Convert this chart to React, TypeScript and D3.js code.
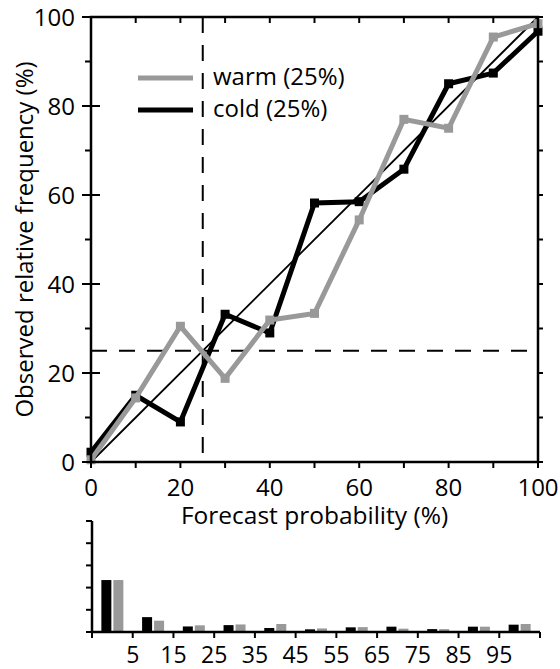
import React from 'react';
import * as d3 from 'd3';

// ---------- data ----------
const forecastBins = [0, 10, 20, 30, 40, 50, 60, 70, 80, 90, 100];
const coldObserved = [2.2, 15, 9, 33.2, 29, 58.2, 58.5, 65.8, 85, 87.4, 96.8];
const warmObserved = [0.5, 14.4, 30.5, 18.8, 31.9, 33.4, 54.4, 77, 75, 95.5, 98.5];
const coldCounts = [23.4, 6.7, 2.5, 3.1, 1.8, 1.2, 2.1, 2.4, 1.3, 2.4, 3.3];
const warmCounts = [23.4, 5.1, 3.0, 3.4, 3.6, 1.6, 2.2, 1.5, 1.3, 2.4, 3.6];
const mainTickLabels = [0, 20, 40, 60, 80, 100];
const minorTicks = [10, 30, 50, 70, 90];
const histTickValues = [-5, 5, 15, 25, 35, 45, 55, 65, 75, 85, 95, 105];
const histTickLabels = [5, 15, 25, 35, 45, 55, 65, 75, 85, 95];
const histYTicks = [0, 10, 20, 30, 40, 50];
const climatology = 25;
const legendItems = [
  { label: 'warm (25%)', color: '#999999' },
  { label: 'cold (25%)', color: '#000000' },
];

const FONT = '"Open Sans", sans-serif';
const GRAY = '#999999';

export default function App() {
  const left = 91, right = 538, top = 17, bottom = 462;
  const x = d3.scaleLinear().domain([0, 100]).range([left, right]);
  const y = d3.scaleLinear().domain([0, 100]).range([bottom, top]);

  const hx = d3.scaleLinear().domain([-5, 105]).range([92, 540]);
  const hy = d3.scaleLinear().domain([0, 50]).range([632, 521]);

  const line = d3
    .line<[number, number]>()
    .x((d) => x(d[0]))
    .y((d) => y(d[1]));

  const coldPts: [number, number][] = forecastBins.map((b, i) => [b, coldObserved[i]]);
  const warmPts: [number, number][] = forecastBins.map((b, i) => [b, warmObserved[i]]);
  const allTicks = d3.range(0, 101, 10);
  const ms = 9;

  return (
    <svg
      width={560}
      height={669}
      style={{ position: 'absolute', left: 0, top: 0, background: '#fff' }}
      fontFamily={FONT}
    >
      {/* reference lines */}
      <line x1={x(climatology)} x2={x(climatology)} y1={y(100)} y2={y(0)} stroke="#000" strokeWidth={2} strokeDasharray="16,12" />
      <line x1={x(0)} x2={x(100)} y1={y(climatology)} y2={y(climatology)} stroke="#000" strokeWidth={2} strokeDasharray="16,12" />
      <path d={line([[0, 0], [100, 100]]) || ''} stroke="#000" strokeWidth={1.8} fill="none" />

      {/* series */}
      <path d={line(coldPts) || ''} stroke="#000" strokeWidth={5} fill="none" strokeLinejoin="miter" />
      {coldPts.map((p, i) => (
        <rect key={'c' + i} x={x(p[0]) - ms / 2} y={y(p[1]) - ms / 2} width={ms} height={ms} fill="#000" />
      ))}
      <path d={line(warmPts) || ''} stroke={GRAY} strokeWidth={5} fill="none" strokeLinejoin="miter" />
      {warmPts.map((p, i) => (
        <rect key={'w' + i} x={x(p[0]) - ms / 2} y={y(p[1]) - ms / 2} width={ms} height={ms} fill={GRAY} />
      ))}

      {/* frame */}
      <rect x={left} y={top} width={right - left} height={bottom - top} fill="none" stroke="#000" strokeWidth={2.5} />
      {allTicks.map((t) => (
        <line key={'bt' + t} x1={x(t)} x2={x(t)} y1={bottom} y2={bottom + 6} stroke="#000" strokeWidth={2} />
      ))}
      {allTicks.map((t) => (
        <line key={'tt' + t} x1={x(t)} x2={x(t)} y1={top} y2={top + 6} stroke="#000" strokeWidth={2} />
      ))}
      {allTicks.map((t) => (
        <line key={'rt' + t} x1={right} x2={right + 5} y1={y(t)} y2={y(t)} stroke="#000" strokeWidth={2} />
      ))}
      {mainTickLabels.map((t) => (
        <line key={'lm' + t} x1={left - 9} x2={left + 9} y1={y(t)} y2={y(t)} stroke="#000" strokeWidth={2} />
      ))}
      {minorTicks.map((t) => (
        <line key={'ln' + t} x1={left - 6} x2={left} y1={y(t)} y2={y(t)} stroke="#000" strokeWidth={2} />
      ))}
      {/* tick labels */}
      {mainTickLabels.map((t) => (
        <text key={'yl' + t} x={75} y={y(t)} dy="0.36em" textAnchor="end" fontSize={24} fill="#000">
          {t}
        </text>
      ))}
      {mainTickLabels.map((t) => (
        <text key={'xl' + t} x={x(t)} y={496} textAnchor="middle" fontSize={24} fill="#000">
          {t}
        </text>
      ))}
      <text x={(left + right) / 2} y={524} textAnchor="middle" fontSize={24.5} fill="#000">
        Forecast probability (%)
      </text>
      <text transform={`translate(33, ${(top + bottom) / 2}) rotate(-90)`} textAnchor="middle" fontSize={24} fill="#000">
        Observed relative frequency (%)
      </text>

      {/* legend */}
      {legendItems.map((it, i) => {
        const ly = 78 + i * 32;
        return (
          <g key={it.label}>
            <line x1={138} x2={193} y1={ly} y2={ly} stroke={it.color} strokeWidth={5} />
            <text x={213} y={ly + 7} fontSize={24} fill="#000">
              {it.label}
            </text>
          </g>
        );
      })}

      {/* histogram */}
      {forecastBins.map((b, i) => (
        <g key={'h' + b}>
          <rect x={hx(b) - 11} y={hy(coldCounts[i])} width={10} height={hy(0) - hy(coldCounts[i])} fill="#000" />
          <rect x={hx(b) + 1} y={hy(warmCounts[i])} width={10} height={hy(0) - hy(warmCounts[i])} fill={GRAY} />
        </g>
      ))}
      <line x1={hx(-5)} x2={hx(105)} y1={hy(0)} y2={hy(0)} stroke="#000" strokeWidth={2.5} />
      <line x1={hx(-5)} x2={hx(-5)} y1={hy(0)} y2={hy(50)} stroke="#000" strokeWidth={2.5} />
      {histYTicks.map((t) => (
        <line key={'hy' + t} x1={hx(-5) - 6} x2={hx(-5)} y1={hy(t)} y2={hy(t)} stroke="#000" strokeWidth={2} />
      ))}
      {histTickValues.map((t) => (
        <line key={'hx' + t} x1={hx(t)} x2={hx(t)} y1={hy(0)} y2={hy(0) + 6} stroke="#000" strokeWidth={2} />
      ))}
      {histTickLabels.map((t) => (
        <text key={'hl' + t} x={hx(t)} y={663} textAnchor="middle" fontSize={23} fill="#000">
          {t}
        </text>
      ))}
    </svg>
  );
}
